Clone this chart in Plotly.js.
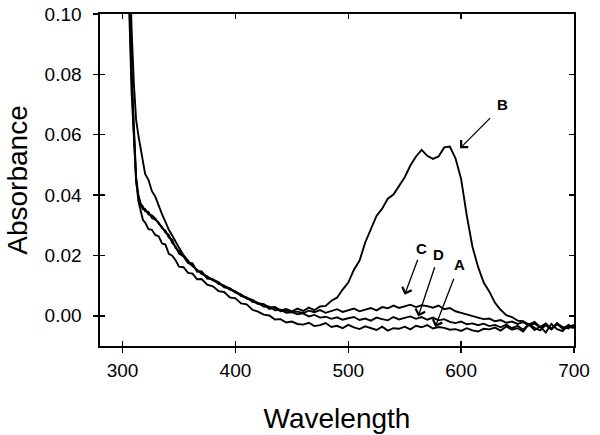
<!DOCTYPE html>
<html>
<head>
<meta charset="utf-8">
<script src="https://cdn.plot.ly/plotly-3.0.1.min.js"></script>
<style>html,body{margin:0;padding:0;background:#fff}#chart{width:600px;height:435px}</style>
</head>
<body>
<div id="chart"></div>
<script>
// Wavelength grid (nm)
const wavelength = [304,306,308,310,312,314,316,318,320,
  323,326,329,332,335,338,341,344,347,350,
  354,358,362,366,370,
  375,380,385,390,395,400,405,410,415,420,425,430,435,440,445,450,
  455,460,465,470,475,480,485,490,495,500,505,510,515,520,525,530,535,540,545,550,
  555,560,565,570,575,580,585,590,595,600,605,610,615,620,625,630,635,640,645,650,
  655,660,665,670,675,680,685,690,695,700];

const absA = [0.14,0.10,0.074,0.057,0.045,0.038,0.0345,0.0318,0.0309,
  0.0287,0.0285,0.0268,0.0263,0.0240,0.0236,0.0205,0.0199,0.0184,0.0163,
  0.0161,0.0142,0.0140,0.0121,0.0122,
  0.0103,0.0098,0.0082,0.0079,0.0061,0.0058,0.0041,0.0038,0.0020,0.0014,0.0004,0.0001,-0.0012,-0.0011,-0.0022,-0.0019,
  -0.0027,-0.0029,-0.0023,-0.0034,-0.0031,-0.0024,-0.0037,-0.0033,-0.0041,-0.0030,-0.0038,-0.0044,-0.0035,-0.0040,-0.0047,-0.0036,-0.0049,-0.0041,-0.0043,-0.0036,
  -0.0045,-0.0033,-0.0038,-0.0031,-0.0042,-0.0037,-0.0040,-0.0046,-0.0044,-0.0050,-0.0041,-0.0048,-0.0052,-0.0043,-0.0045,-0.0039,-0.0049,-0.0035,-0.0046,-0.0041,
  -0.0052,-0.0028,-0.0047,-0.0036,-0.0055,-0.0027,-0.0044,-0.0051,-0.0030,-0.0038];

const absB = [0.15,0.118,0.095,0.077,0.065,0.0598,0.0552,0.0506,0.0470,
  0.0450,0.0413,0.0395,0.0362,0.0336,0.0311,0.0285,0.0266,0.0244,0.0226,
  0.0201,0.0183,0.0165,0.0153,0.0139,
  0.0131,0.0117,0.0111,0.0098,0.0091,0.0079,0.0070,0.0059,0.0053,0.0042,0.0039,0.0028,0.0029,0.0018,0.0023,0.0015,
  0.0024,0.0016,0.0027,0.0019,0.0031,0.0033,0.0050,0.0060,0.0087,0.0110,0.0153,0.0183,0.0243,0.0287,0.0331,0.0355,0.0388,0.0402,0.0431,0.0459,
  0.0498,0.0528,0.0550,0.0530,0.0520,0.0528,0.0558,0.0561,0.0522,0.0453,0.0332,0.0229,0.0162,0.0110,0.0080,0.0043,0.0020,0.0002,-0.0004,-0.0016,
  -0.0018,-0.0029,-0.0020,-0.0037,-0.0025,-0.0043,-0.0028,-0.0040,-0.0033,-0.0036];

const absC = [0.135,0.108,0.082,0.063,0.046,0.0400,0.0372,0.0362,0.0347,
  0.0344,0.0324,0.0319,0.0309,0.0290,0.0282,0.0259,0.0252,0.0224,0.0215,
  0.0199,0.0176,0.0174,0.0146,0.0148,
  0.0123,0.0121,0.0111,0.0094,0.0091,0.0077,0.0070,0.0057,0.0052,0.0039,0.0038,0.0023,0.0027,0.0015,0.0017,0.0012,
  0.0014,0.0009,0.0017,0.0012,0.0019,0.0010,0.0016,0.0022,0.0013,0.0019,0.0024,0.0015,0.0021,0.0026,0.0018,0.0029,0.0025,0.0034,0.0026,0.0031,
  0.0037,0.0029,0.0035,0.0032,0.0027,0.0034,0.0022,0.0026,0.0015,0.0010,0.0004,-0.0002,-0.0006,-0.0011,-0.0009,-0.0018,-0.0014,-0.0023,-0.0019,-0.0027,
  -0.0021,-0.0033,-0.0026,-0.0038,-0.0030,-0.0044,-0.0025,-0.0037,-0.0042,-0.0029];

const absD = [0.13,0.104,0.079,0.061,0.0445,0.0395,0.0368,0.0353,0.0354,
  0.0336,0.0333,0.0322,0.0305,0.0294,0.0276,0.0268,0.0241,0.0230,0.0206,
  0.0197,0.0176,0.0167,0.0150,0.0143,
  0.0127,0.0121,0.0106,0.0100,0.0087,0.0081,0.0065,0.0061,0.0046,0.0043,0.0031,0.0030,0.0018,0.0020,0.0010,0.0012,
  0.0005,0.0008,-0.0002,0.0003,-0.0006,-0.0003,-0.0010,-0.0005,-0.0013,-0.0008,-0.0004,-0.0014,-0.0009,-0.0016,-0.0006,-0.0011,-0.0015,-0.0004,-0.0012,-0.0007,
  -0.0002,-0.0010,-0.0004,-0.0013,-0.0006,-0.0015,-0.0011,-0.0020,-0.0024,-0.0019,-0.0028,-0.0025,-0.0031,-0.0026,-0.0034,-0.0030,-0.0038,-0.0029,-0.0041,-0.0033,
  -0.0046,-0.0027,-0.0040,-0.0048,-0.0031,-0.0045,-0.0024,-0.0043,-0.0036,-0.0041];

// Curve labels with arrow tip, arrow tail and text positions (data units)
const labelNames = ['B','C','D','A'];
const labelTipX = [599, 550, 562, 577];
const labelTipY = [0.0555, 0.0070, -0.0002, -0.0037];
const labelTailX = [627, 562, 577, 594];
const labelTailY = [0.0660, 0.0191, 0.0166, 0.0128];
const labelTextX = [637, 565, 580, 598.5];
const labelTextY = [0.0699, 0.0222, 0.0202, 0.0169];

const series = [absA, absB, absC, absD];
const traces = series.map((ys, i) => ({
  x: wavelength, y: ys, type: 'scatter', mode: 'lines',
  line: {color: '#000', width: 1.9}, hoverinfo: 'skip',
  xaxis: i === 0 ? 'x2' : 'x', yaxis: i === 0 ? 'y2' : 'y'
}));

const annotations = [];
labelNames.forEach((n, i) => {
  annotations.push({
    x: labelTipX[i], y: labelTipY[i], ax: labelTailX[i], ay: labelTailY[i],
    xref: 'x', yref: 'y', axref: 'x', ayref: 'y',
    text: '', showarrow: true, arrowhead: 4, arrowsize: 1.5, arrowwidth: 1.3, arrowcolor: '#000'
  });
  annotations.push({
    x: labelTextX[i], y: labelTextY[i], xref: 'x', yref: 'y',
    text: '<b>' + n + '</b>', showarrow: false,
    font: {family: 'Liberation Sans, Arial, sans-serif', size: 15, color: '#000'}
  });
});

const font = {family: 'Liberation Sans, Arial, sans-serif', color: '#000'};
const xBase = {range: [280, 700], tick0: 300, dtick: 100, showgrid: false, zeroline: false,
  showline: true, linecolor: '#000', linewidth: 1.6, tickcolor: '#000', tickwidth: 1.4, ticklen: 5};
const yBase = {range: [-0.01, 0.10], tick0: 0, dtick: 0.02, showgrid: false, zeroline: false,
  showline: true, linecolor: '#000', linewidth: 1.6, tickcolor: '#000', tickwidth: 1.4, ticklen: 5};

const layout = {
  width: 600, height: 435,
  margin: {l: 100, r: 26, t: 14, b: 89},
  paper_bgcolor: '#fff', plot_bgcolor: '#fff',
  showlegend: false,
  font: font,
  xaxis: Object.assign({}, xBase, {
    ticks: 'outside', mirror: true, ticklabelstandoff: 2,
    tickfont: {family: font.family, size: 19, color: '#000'},
    title: {text: 'Wavelength', font: {family: font.family, size: 28, color: '#000'}, standoff: 28}
  }),
  yaxis: Object.assign({}, yBase, {
    ticks: 'outside', mirror: true, tickformat: '.2f', ticklabelstandoff: 8,
    tickfont: {family: font.family, size: 19, color: '#000'},
    title: {text: 'Absorbance', font: {family: font.family, size: 28, color: '#000'}, standoff: 9}
  }),
  xaxis2: Object.assign({}, xBase, {overlaying: 'x', anchor: 'y2', side: 'bottom', ticks: 'inside', mirror: 'ticks', showticklabels: false}),
  yaxis2: Object.assign({}, yBase, {overlaying: 'y', anchor: 'x2', side: 'left', ticks: 'inside', mirror: 'ticks', showticklabels: false}),
  annotations: annotations
};

Plotly.newPlot('chart', traces, layout, {staticPlot: true, displayModeBar: false});
</script>
</body>
</html>
